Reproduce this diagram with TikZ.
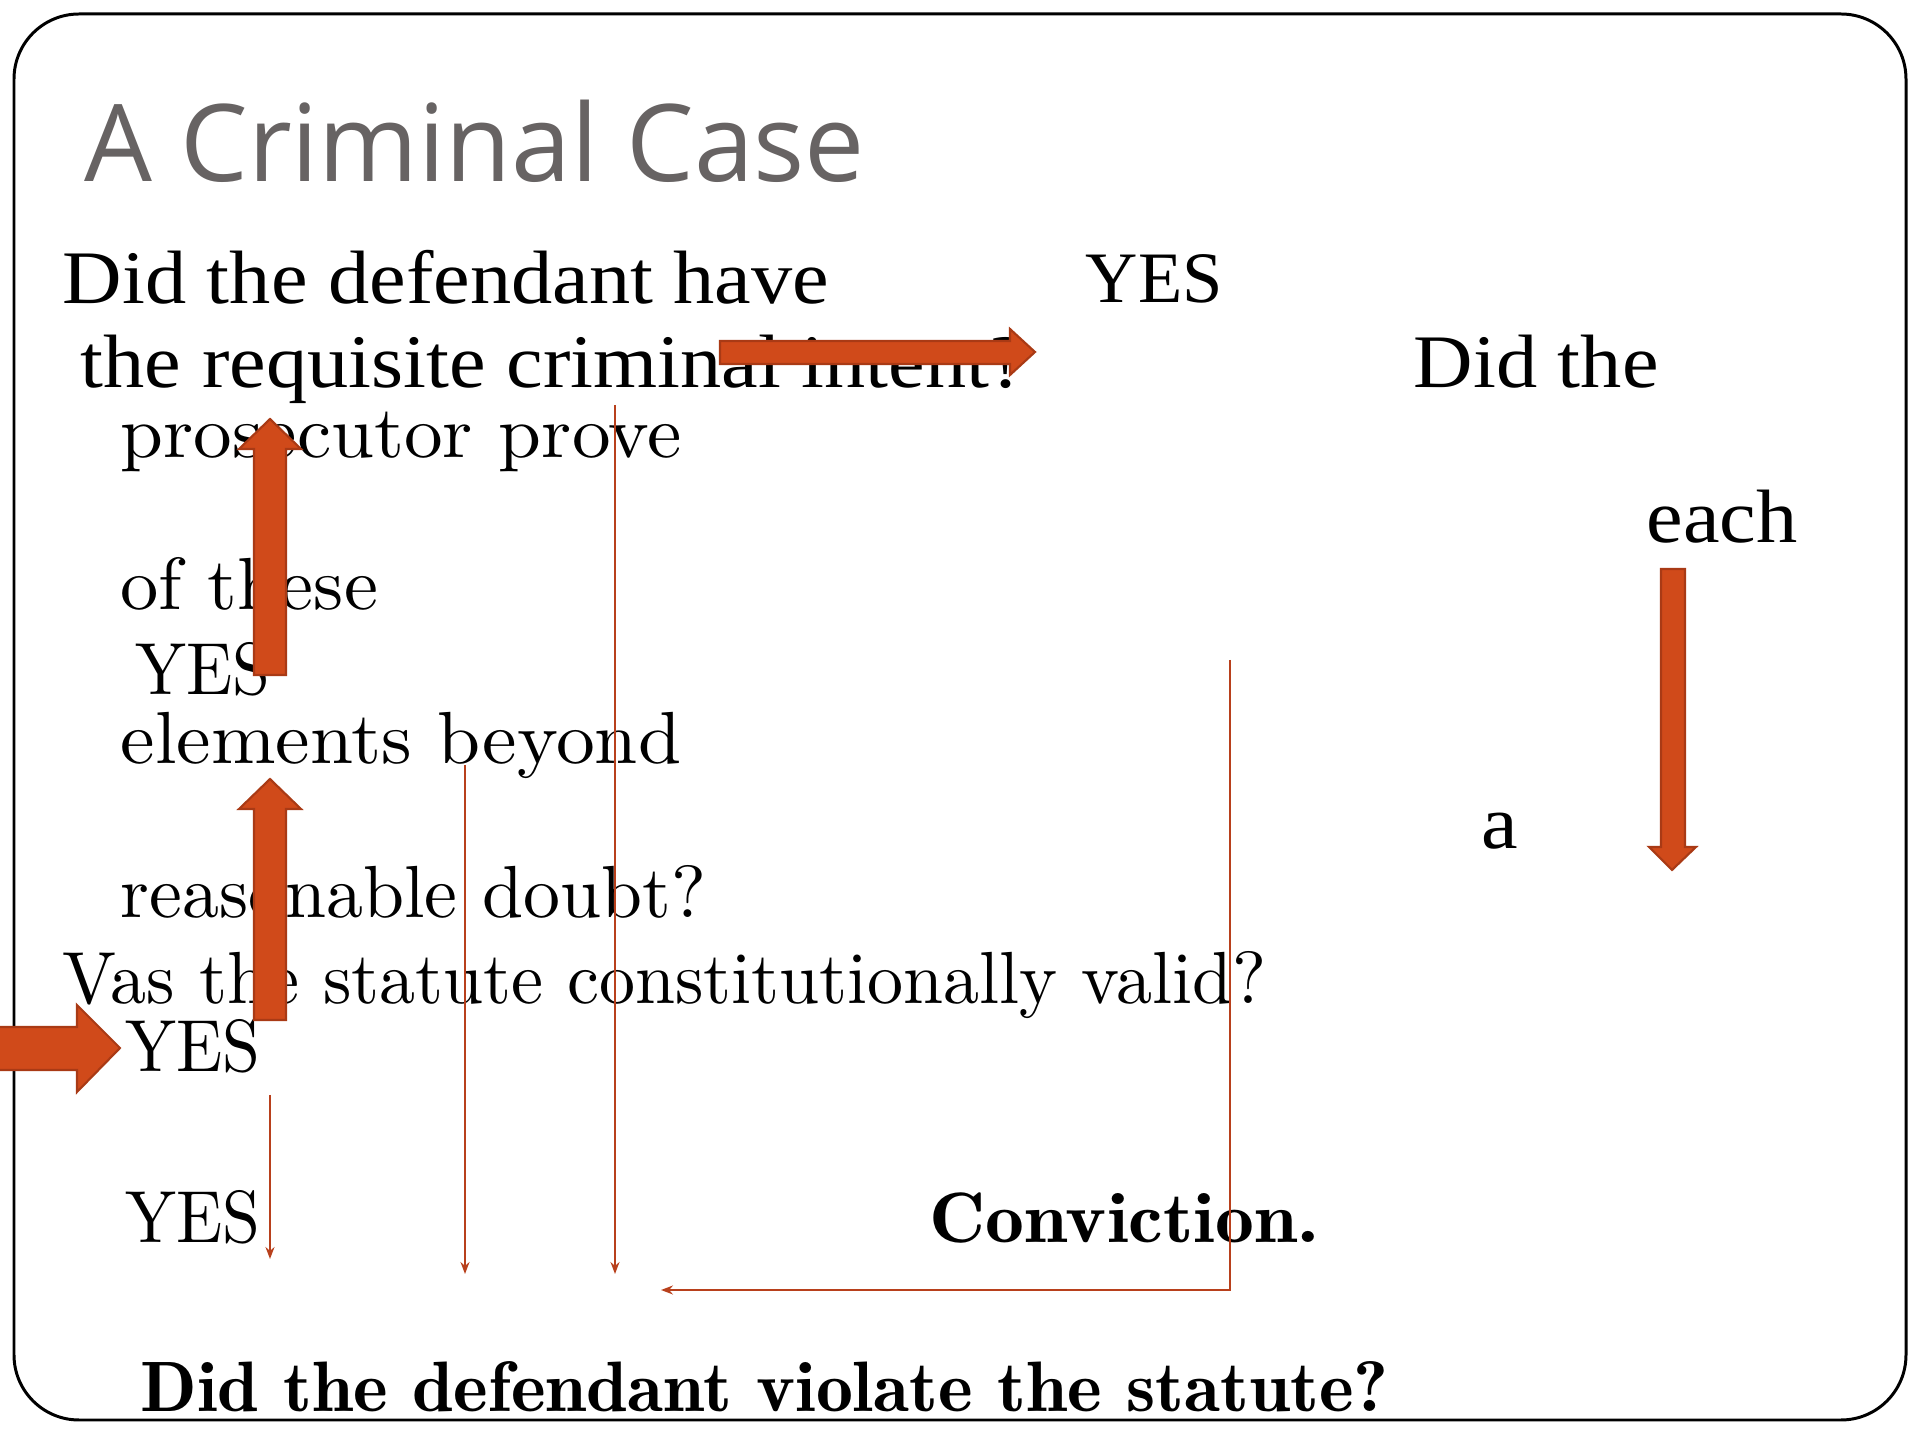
\documentclass[tikz,border=0pt]{standalone}
\usepackage{fontspec}
\usepackage{graphicx}
\usepackage{tikz}
\usetikzlibrary{arrows.meta}
\newfontfamily\titlefont{Open Sans}
\newfontfamily\timesfont{Liberation Serif}
\newfontfamily\bookfont[BoldFont=lmromandemi10-regular.otf]{lmroman10-regular.otf}
\newcommand\widen[1]{\scalebox{1.09}[1]{#1}}
\definecolor{titlegray}{HTML}{676363}
\definecolor{arrowfill}{HTML}{D04A1A}
\definecolor{arrowedge}{HTML}{A93A15}
\definecolor{linered}{HTML}{B8401C}

\begin{document}
\begin{tikzpicture}[
  x=0.01cm,y=-0.01cm,
  every node/.style={inner sep=0pt,anchor=base west},
  title/.style={font=\titlefont\fontsize{30.5}{36}\selectfont,text=titlegray},
  serifq/.style={font=\timesfont\fontsize{21.5}{26}\selectfont},
  plain/.style={font=\bookfont\fontsize{21}{25}\selectfont},
  strong/.style={font=\bookfont\bfseries\fontsize{20.3}{24}\selectfont},
  bigarrow/.style={fill=arrowfill,draw=arrowedge,line width=0.6pt,line join=miter},
  thinarrow/.style={draw=linered,line width=0.55pt,-{Stealth[length=1.2mm,width=0.9mm,inset=0.4mm]}}
]
\useasboundingbox (0,0) rectangle (1920,1440);
% slide frame
\draw[line width=0.85pt,rounded corners=0.65cm] (14,14) rectangle (1906,1420);

\node[title] (title) at (84,182) {A Criminal Case};

% question text
\node[serifq] (intent1) at (62,304) {\widen{Did the defendant have}};
\node[serifq] (intent2) at (80,388) {\widen{the requisite criminal intent?}};
\node[font=\timesfont\fontsize{20.6}{25}\selectfont] (yestop) at (1085,303) {YES};
\node[serifq] (didthe) at (1413,388) {\widen{Did the}};
\node[serifq] (each) at (1646,543) {\widen{each}};
\node[serifq] (a) at (1481,849) {\widen{a}};

\node[plain] (prose) at (120,458) {\scalebox{1.045}[1]{prosecutor prove}};
\node[plain] (these) at (120,610) {\scalebox{1.035}[1]{of these}};
\node[plain] (yes1) at (135,695) {\scalebox{0.92}[1]{YES}};
\node[plain] (elem) at (120,764) {\scalebox{1.05}[1]{elements beyond}};
\node[plain] (doubt) at (120,918) {reasonable doubt?};
\node[plain] (valid) at (62,1004) {\scalebox{0.975}[1]{Vas the statute constitutionally valid?}};
\node[plain] (yes2) at (125,1072) {\scalebox{0.92}[1]{YES}};
\node[plain] (yes3) at (125,1243) {\scalebox{0.92}[1]{YES}};
\node[strong] (conv) at (929,1243) {\scalebox{1.09}[1]{Conviction.}};
\node[strong] (viol) at (140,1412) {\scalebox{1.036}[1]{Did the defendant violate the statute?}};

% block arrows
\draw[bigarrow] (720,341) -- (1010,341) -- (1010,329) -- (1035,352) -- (1010,375) -- (1010,364) -- (720,364) -- cycle;
\draw[bigarrow] (254,675) -- (254,449) -- (239,449) -- (270,419) -- (301,449) -- (286,449) -- (286,675) -- cycle;
\draw[bigarrow] (254,1020) -- (254,809) -- (239,809) -- (270,779) -- (301,809) -- (286,809) -- (286,1020) -- cycle;
\draw[bigarrow] (-5,1027) -- (77,1027) -- (77,1005) -- (120,1048) -- (77,1092) -- (77,1070) -- (-5,1070) -- cycle;
\draw[bigarrow] (1661,569) -- (1685,569) -- (1685,847) -- (1696,847) -- (1672,870) -- (1649,847) -- (1661,847) -- cycle;

% thin connectors
\coordinate (yesdrop) at (270,1095);
\coordinate (yesend) at (270,1259);
\coordinate (beyonddrop) at (465,765);
\coordinate (beyondend) at (465,1274);
\coordinate (provedrop) at (615,405);
\coordinate (proveend) at (615,1274);
\coordinate (convdrop) at (1230,660);
\coordinate (convturn) at (1230,1290);
\coordinate (convend) at (661,1290);
\draw[thinarrow] (yesdrop) -- (yesend);
\draw[thinarrow] (beyonddrop) -- (beyondend);
\draw[thinarrow] (provedrop) -- (proveend);
\draw[thinarrow] (convdrop) -- (convturn) -- (convend);
\end{tikzpicture}
\end{document}
